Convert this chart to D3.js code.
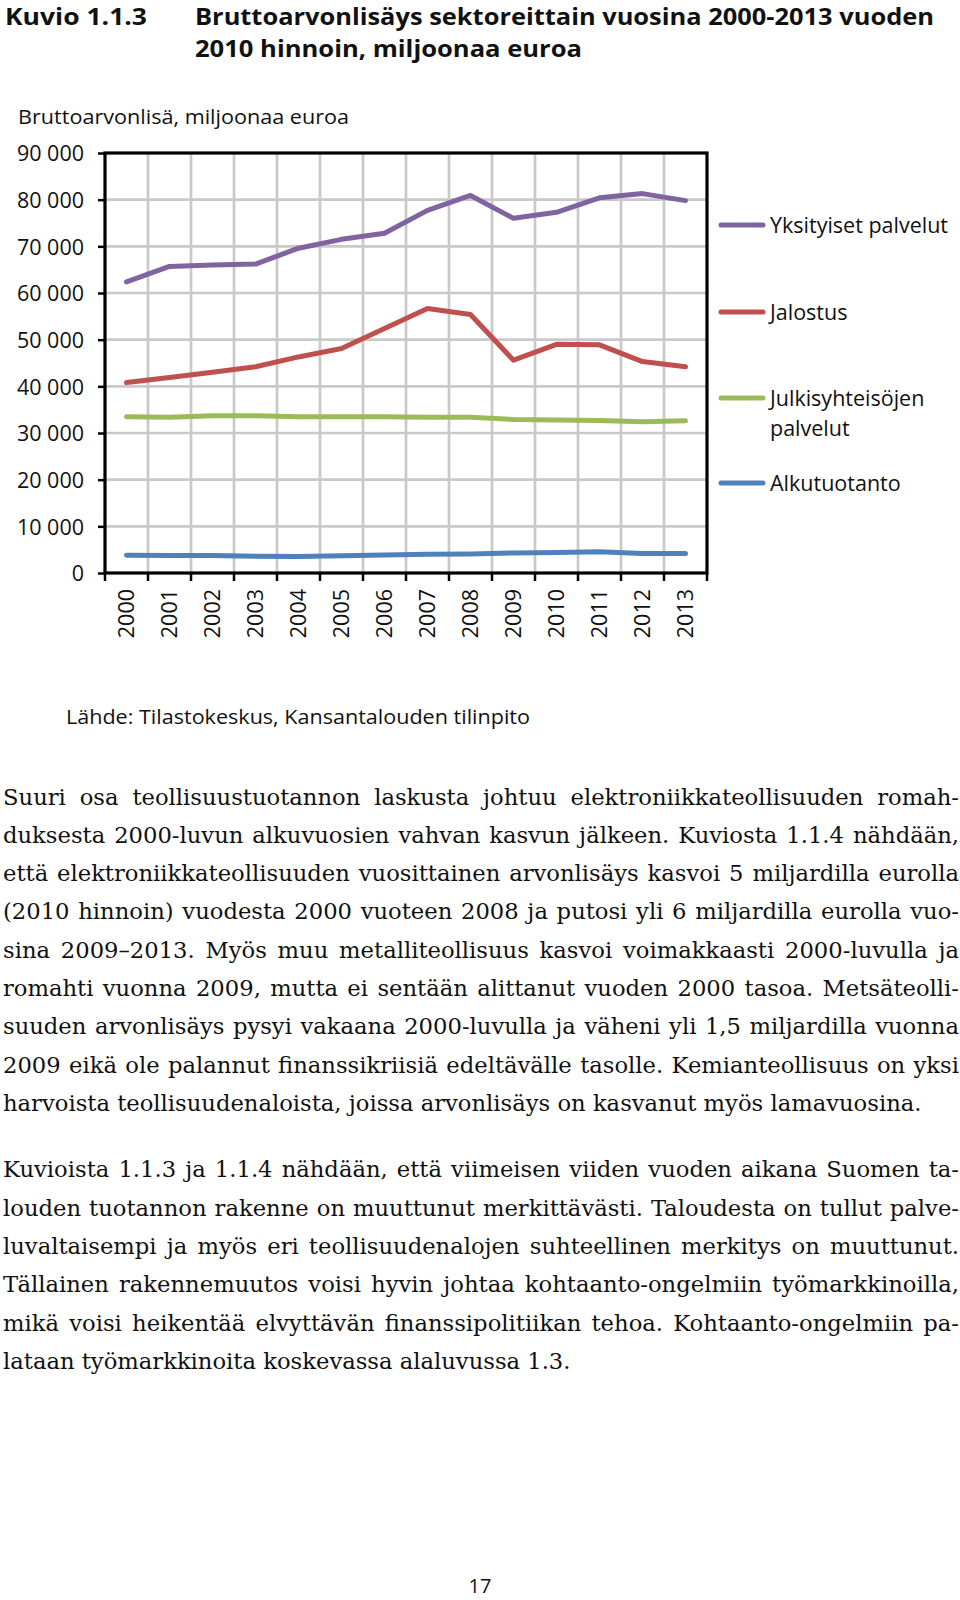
<!DOCTYPE html>
<html>
<head>
<meta charset="utf-8">
<script src="https://cdn.jsdelivr.net/npm/d3@7"></script>
<style>
  html, body { margin: 0; padding: 0; background: #fff; }
  svg { display: block; }
</style>
</head>
<body>
<script>
// ---- Data ----
const years = ["2000","2001","2002","2003","2004","2005","2006","2007","2008","2009","2010","2011","2012","2013"];
const yksityisetPalvelut = [62400, 65700, 66000, 66200, 69600, 71500, 72800, 77700, 80900, 76000, 77300, 80400, 81300, 79800];
const jalostus = [40800, 41900, 43000, 44200, 46300, 48100, 52400, 56700, 55400, 45600, 49000, 48900, 45300, 44200];
const julkisyhteisojenPalvelut = [33500, 33400, 33700, 33700, 33500, 33500, 33500, 33400, 33400, 32900, 32800, 32700, 32400, 32600];
const alkutuotanto = [3800, 3750, 3750, 3600, 3550, 3700, 3850, 4000, 4050, 4300, 4400, 4550, 4200, 4200];
const yTicks = [0, 10000, 20000, 30000, 40000, 50000, 60000, 70000, 80000, 90000];
const seriesNames = ["Yksityiset palvelut", "Jalostus", "Julkisyhteisöjen palvelut", "Alkutuotanto"];
const seriesColors = ["#8064A2", "#C0504D", "#9BBB59", "#4F81BD"];

const series = [
  {name: seriesNames[0], label: ["Yksityiset palvelut"], values: yksityisetPalvelut, color: seriesColors[0]},
  {name: seriesNames[1], label: ["Jalostus"], values: jalostus, color: seriesColors[1]},
  {name: seriesNames[2], label: ["Julkisyhteisöjen", "palvelut"], values: julkisyhteisojenPalvelut, color: seriesColors[2]},
  {name: seriesNames[3], label: ["Alkutuotanto"], values: alkutuotanto, color: seriesColors[3]}
];

const bodyP1 = [
  "Suuri osa teollisuustuotannon laskusta johtuu elektroniikkateollisuuden romah-",
  "duksesta 2000-luvun alkuvuosien vahvan kasvun jälkeen. Kuviosta 1.1.4 nähdään,",
  "että elektroniikkateollisuuden vuosittainen arvonlisäys kasvoi 5 miljardilla eurolla",
  "(2010 hinnoin) vuodesta 2000 vuoteen 2008 ja putosi yli 6 miljardilla eurolla vuo-",
  "sina 2009–2013. Myös muu metalliteollisuus kasvoi voimakkaasti 2000-luvulla ja",
  "romahti vuonna 2009, mutta ei sentään alittanut vuoden 2000 tasoa. Metsäteolli-",
  "suuden arvonlisäys pysyi vakaana 2000-luvulla ja väheni yli 1,5 miljardilla vuonna",
  "2009 eikä ole palannut finanssikriisiä edeltävälle tasolle. Kemianteollisuus on yksi",
  "harvoista teollisuudenaloista, joissa arvonlisäys on kasvanut myös lamavuosina."
];
const bodyP2 = [
  "Kuvioista 1.1.3 ja 1.1.4 nähdään, että viimeisen viiden vuoden aikana Suomen ta-",
  "louden tuotannon rakenne on muuttunut merkittävästi. Taloudesta on tullut palve-",
  "luvaltaisempi ja myös eri teollisuudenalojen suhteellinen merkitys on muuttunut.",
  "Tällainen rakennemuutos voisi hyvin johtaa kohtaanto-ongelmiin työmarkkinoilla,",
  "mikä voisi heikentää elvyttävän finanssipolitiikan tehoa. Kohtaanto-ongelmiin pa-",
  "lataan työmarkkinoita koskevassa alaluvussa 1.3."
];

// ---- Layout ----
const W = 960, H = 1600;
const plot = {left: 105, right: 707, top: 153, bottom: 573};
const chartFont = "'Open Sans', sans-serif";

const svg = d3.select("body").append("svg").attr("width", W).attr("height", H);
svg.append("rect").attr("width", W).attr("height", H).attr("fill", "#fff");

// Title
const title = svg.append("g").attr("font-family", chartFont).attr("font-weight", 700)
  .attr("font-size", 23).attr("fill", "#111");
title.append("text").attr("x", 5).attr("y", 25).attr("textLength", 142)
  .attr("lengthAdjust", "spacingAndGlyphs").text("Kuvio 1.1.3");
title.append("text").attr("x", 195).attr("y", 25).attr("textLength", 739)
  .attr("lengthAdjust", "spacingAndGlyphs").text("Bruttoarvonlisäys sektoreittain vuosina 2000-2013 vuoden");
title.append("text").attr("x", 195).attr("y", 57).attr("textLength", 387)
  .attr("lengthAdjust", "spacingAndGlyphs").text("2010 hinnoin, miljoonaa euroa");

// Y axis title
svg.append("text").attr("x", 18).attr("y", 124).attr("font-family", chartFont)
  .attr("font-size", 19.5).attr("fill", "#111").attr("textLength", 331)
  .attr("lengthAdjust", "spacingAndGlyphs").text("Bruttoarvonlisä, miljoonaa euroa");

// Scales
const x = d3.scaleBand().domain(years).range([plot.left, plot.right]).padding(0);
const y = d3.scaleLinear().domain([0, 90000]).range([plot.bottom, plot.top]);
const bw = x.bandwidth();

// Gridlines
const grid = svg.append("g").attr("stroke", "#c9c9c9").attr("stroke-width", 2.7);
grid.selectAll("line.h").data(yTicks.filter(d => d > 0 && d < 90000)).enter().append("line")
  .attr("x1", plot.left).attr("x2", plot.right).attr("y1", d => y(d)).attr("y2", d => y(d));
grid.selectAll("line.v").data(years.slice(1)).enter().append("line")
  .attr("x1", d => x(d)).attr("x2", d => x(d)).attr("y1", plot.top).attr("y2", plot.bottom);

// Y axis
const yAxis = svg.append("g").attr("transform", `translate(${plot.left},0)`)
  .call(d3.axisLeft(y).tickValues(yTicks).tickSize(7).tickPadding(14)
    .tickFormat(d => d3.format(",")(d).replace(/,/g, " ")));
yAxis.select(".domain").remove();
yAxis.selectAll(".tick line").attr("stroke", "#000").attr("stroke-width", 2.5);
yAxis.selectAll(".tick text").attr("font-family", chartFont).attr("font-size", 21.5)
  .attr("fill", "#111").attr("dy", "0.36em");

// X axis
const xAxis = svg.append("g").attr("transform", `translate(0,${plot.bottom})`)
  .call(d3.axisBottom(x).tickSize(0).tickPadding(0));
xAxis.select(".domain").remove();
xAxis.selectAll(".tick text")
  .attr("font-family", chartFont).attr("font-size", 21.5).attr("fill", "#111")
  .attr("text-anchor", "end").attr("transform", "translate(0,16) rotate(-90)")
  .attr("x", 0).attr("y", 0).attr("dy", "0.36em");
// x tick marks at band boundaries
svg.append("g").attr("stroke", "#000").attr("stroke-width", 2.5)
  .selectAll("line").data(d3.range(years.length + 1)).enter().append("line")
  .attr("x1", i => plot.left + i * bw).attr("x2", i => plot.left + i * bw)
  .attr("y1", plot.bottom).attr("y2", plot.bottom + 8);

// Frame
svg.append("rect").attr("x", plot.left).attr("y", plot.top)
  .attr("width", plot.right - plot.left).attr("height", plot.bottom - plot.top)
  .attr("fill", "none").attr("stroke", "#000").attr("stroke-width", 3.2);

// Lines
const line = d3.line().x((d, i) => x(years[i]) + bw / 2).y(d => y(d));
svg.append("g").selectAll("path").data(series.slice().reverse()).enter().append("path")
  .attr("d", d => line(d.values)).attr("fill", "none").attr("stroke", d => d.color)
  .attr("stroke-width", 5).attr("stroke-linejoin", "round").attr("stroke-linecap", "round");

// Legend
const legendY = [225, 312, 398, 483];
const leg = svg.append("g").attr("font-family", chartFont).attr("font-size", 21.5).attr("fill", "#111");
series.forEach((s, i) => {
  const g = leg.append("g").attr("transform", `translate(0,${legendY[i]})`);
  g.append("line").attr("x1", 721).attr("x2", 763).attr("y1", 0).attr("y2", 0)
    .attr("stroke", s.color).attr("stroke-width", 5).attr("stroke-linecap", "round");
  s.label.forEach((t, j) => {
    g.append("text").attr("x", 770).attr("y", 8 + j * 30).text(t);
  });
});

// Source
svg.append("text").attr("x", 66).attr("y", 724).attr("font-family", chartFont)
  .attr("font-size", 19.5).attr("fill", "#111").attr("textLength", 464)
  .attr("lengthAdjust", "spacingAndGlyphs").text("Lähde: Tilastokeskus, Kansantalouden tilinpito");

// Body text: fit the font so the paragraph's last line has the reference width,
// then justify full lines with word spacing.
const bodyFont = "'DejaVu Serif', serif";
const body = svg.append("g").attr("font-family", bodyFont).attr("fill", "#111");
const probe = body.append("text").attr("font-size", 20).text(bodyP1[bodyP1.length - 1]);
const fs = 20 * 919 / probe.node().getComputedTextLength();
probe.remove();
body.attr("font-size", fs);
function para(lines, y0) {
  lines.forEach((t, i) => {
    const el = body.append("text").attr("x", 3).attr("y", y0 + i * 38.3).text(t);
    if (i < lines.length - 1) {
      const nat = el.node().getComputedTextLength();
      const spaces = (t.match(/ /g) || []).length;
      if (spaces > 0) el.style("word-spacing", ((956 - nat) / spaces) + "px");
    }
  });
}
para(bodyP1, 804.5);
para(bodyP2, 1177.3);

// Page number
svg.append("text").attr("x", 480).attr("y", 1593).attr("text-anchor", "middle")
  .attr("font-family", chartFont).attr("font-size", 20).attr("fill", "#111").text("17");
</script>
</body>
</html>
